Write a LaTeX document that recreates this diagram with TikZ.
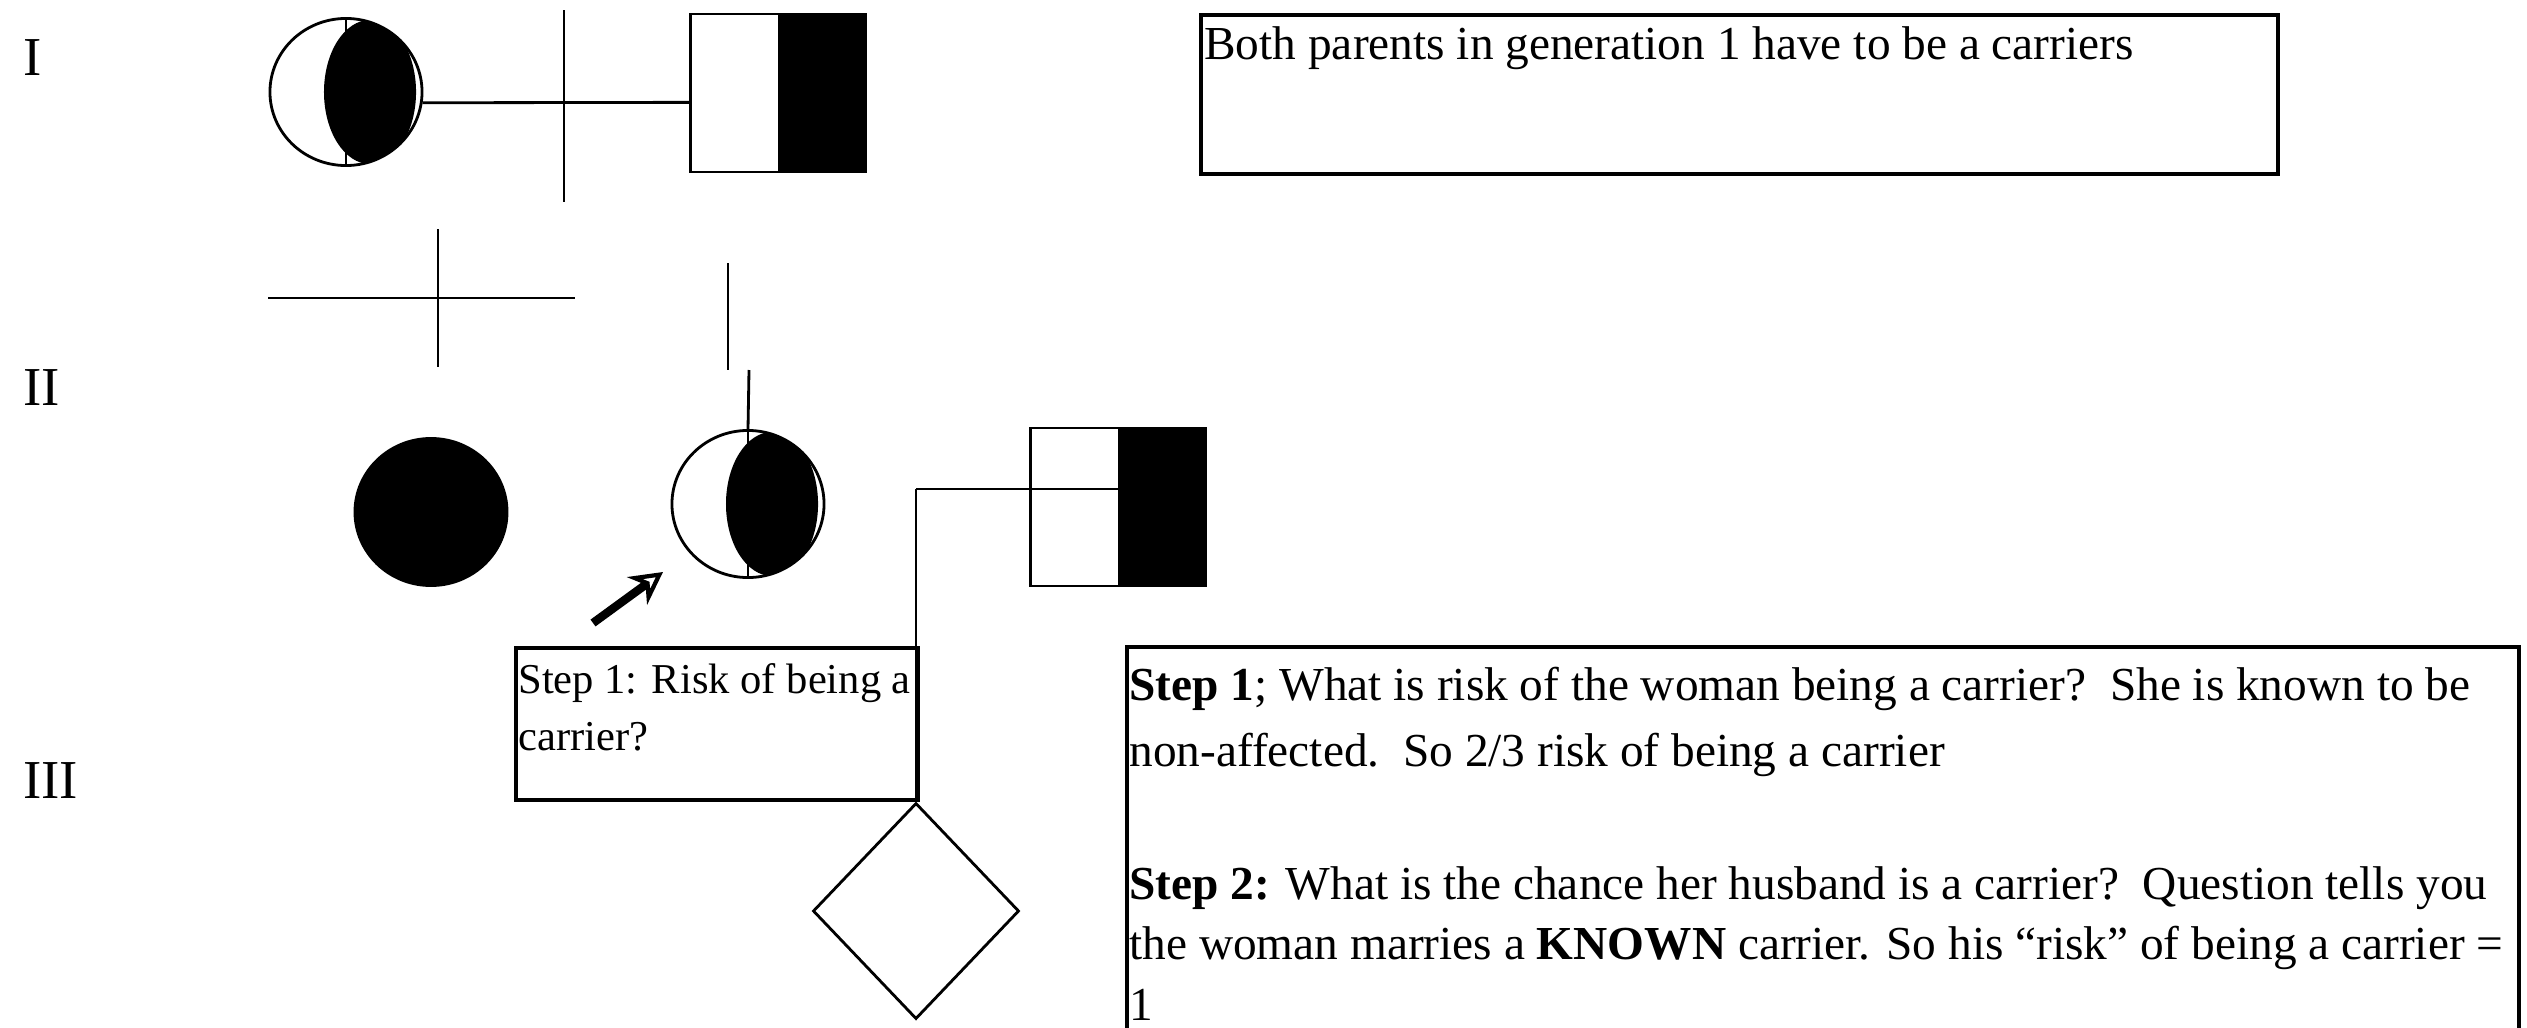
\documentclass[tikz,border=0pt]{standalone}
\usepackage{fontspec}
\setmainfont{Liberation Serif}
\usetikzlibrary{shapes.geometric,arrows.meta}

\begin{document}
\begin{tikzpicture}[x=0.01cm,y=-0.01cm,line width=0.8pt,
		female node/.style={ellipse,draw,inner sep=0pt,minimum width=1.52cm,minimum height=1.47cm},
		affected female/.style={female node,fill=black},
		carrier female/.style={female node,
			path picture={\fill ([xshift=0.24cm]path picture bounding box.center) ellipse [x radius=0.46cm,y radius=0.72cm];
				\draw (path picture bounding box.north) -- (path picture bounding box.south);}},
		male node/.style={rectangle,draw,inner sep=0pt,minimum width=1.75cm,minimum height=1.58cm,
			path picture={\fill (path picture bounding box.north) rectangle (path picture bounding box.south east);}},
		unknown node/.style={diamond,draw,inner sep=0pt,minimum width=2.06cm,minimum height=2.16cm},
		note box/.style={rectangle,draw,line width=1.1pt,inner sep=0pt,anchor=north west},
		note text/.style={anchor=base west,align=left,inner sep=0pt,font=\fontsize{13.46}{18.5}\selectfont},
		gen label/.style={anchor=base west,inner sep=0pt,font=\fontsize{15.6}{18}\selectfont}]
		
		\useasboundingbox[fill=white] (0,0) rectangle (2527,1027);
		
		% generation labels
		\node[gen label] (gI) at (22,75) {I};
		\node[gen label] (gII) at (22,405) {II};
		\node[gen label] (gIII) at (22,798) {III};
		
		% generation I
		\node[carrier female] (I1) at (346,92) {};
		\node[male node] (I2) at (778,93) {};
		\coordinate (I12up) at (564,10);
		\coordinate (I12dn) at (564,202);
		
		% sibship
		\coordinate (sibL) at (268,298);
		\coordinate (sibR) at (575,298);
		\coordinate (drop1a) at (438,229);
		\coordinate (drop1b) at (438,367);
		\coordinate (drop2a) at (728,263);
		\coordinate (drop2b) at (728,370);
		\coordinate (drop3) at (749,370);
		
		% generation II
		\node[affected female] (II1) at (431,512) {};
		\node[carrier female] (II2) at (748,504) {};
		\node[male node] (II3) at (1118,507) {};
		\coordinate (cpl2) at (916,489);
		
		% generation III
		\node[unknown node] (III1) at (916,911) {};
		
		\path (I1.-8) edge (I2.-174)
		(I12up) edge (I12dn)
		(sibL) edge (sibR)
		(drop1a) edge (drop1b)
		(drop2a) edge (drop2b)
		(drop3) edge (II2.north)
		(cpl2) edge (cpl2 -| II3.center)
		(cpl2) edge (III1.north);
		
		% pointer to the woman
		\coordinate (ptrTail) at (593,623);
		\coordinate (ptrHead) at (663,572);
		\draw[line width=2.4pt,-{Stealth[open,length=0.32cm,width=0.34cm,line width=1.2pt]}] (ptrTail) -- (ptrHead);
		
		% notes (base = last line)
		\node[note box,minimum width=10.76cm,minimum height=1.59cm] (box0) at (1199,13) {};
		\node[note text] (box0txt) at (1203,60) {Both parents in generation 1 have to be a carriers};
		
		\node[note box,minimum width=4.02cm,minimum height=1.52cm] (box1) at (514,646) {};
		\node[note text,font=\fontsize{12.1}{16.2}\selectfont] (box1txt) at (517,750) {Step 1: Risk of being a\\carrier?};
		
		\node[note box,minimum width=13.91cm,minimum height=4.2cm] (box2) at (1125,645) {};
		\node[note text] (step1txt) at (1128,766) {\textbf{Step 1}; What is risk of the woman being a carrier?\ \ She is known to be\\non-affected.\ \ So 2/3 risk of being a carrier};
		\node[note text,font=\fontsize{13.46}{17.1}\selectfont] (step2txt) at (1128,1020) {\textbf{Step 2:} What is the chance her husband is a carrier?\ \ Question tells you\\the woman marries a \textbf{KNOWN} carrier. So his “risk” of being a carrier =\\1};
\end{tikzpicture}
\end{document}
